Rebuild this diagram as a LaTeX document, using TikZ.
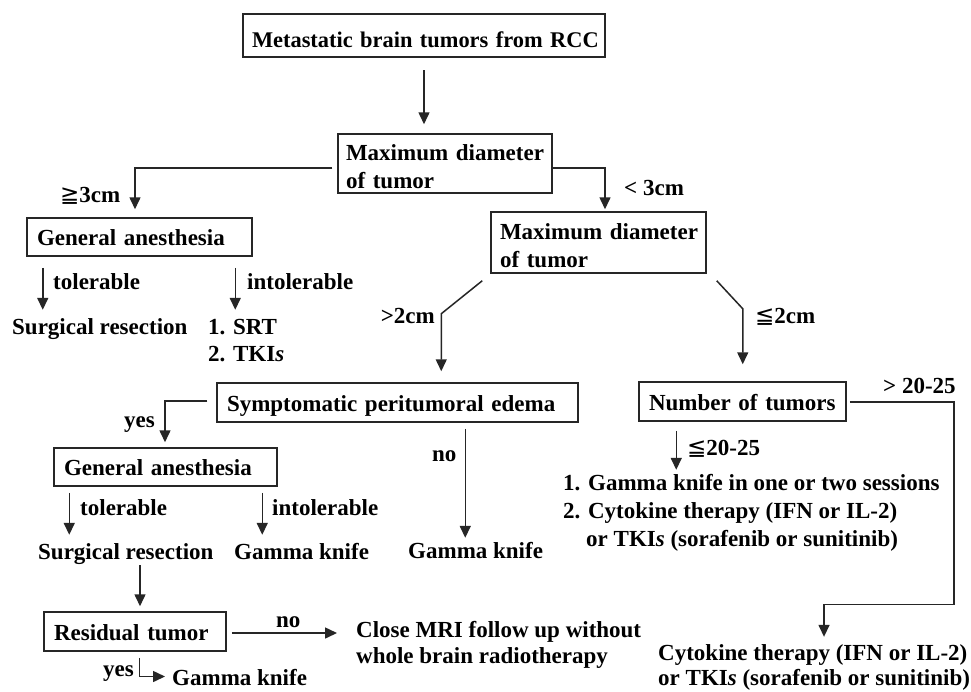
\documentclass[tikz,border=0pt]{standalone}
\usepackage{fontspec}
\setmainfont{Liberation Serif}
\newfontfamily\symf{DejaVu Sans}
\usetikzlibrary{arrows.meta,calc}
\newcommand{\mygeq}{{\symf\mdseries ≧}}
\newcommand{\myleq}{{\symf\mdseries ≦}}
\begin{document}
\begin{tikzpicture}[x=1pt,y=-1pt,
  every node/.style={font=\fontsize{23}{28}\selectfont\bfseries, text=black},
  box/.style={draw=black!85, line width=1.5pt, inner xsep=10pt, inner ysep=0pt, align=left},
  bx1/.style={box, text height=17pt, text depth=0pt},
  lbl/.style={inner sep=0pt, anchor=base west, text height=16pt, text depth=5pt},
  lnk/.style={draw=black!85, line width=1.5pt},
  arr/.style={lnk, -{Triangle[length=12pt,width=11pt]}}]
\fill[white] (0,0) rectangle (971,691);
\useasboundingbox (0,0) rectangle (971,691);

% boxes
\node[box, inner xsep=9pt, text width=344pt, minimum height=43pt, text height=23pt, text depth=0pt, font=\fontsize{22.4}{28}\selectfont\bfseries] (top) at (424,35.5) {\mbox{Metastatic brain tumors from RCC}};
\node[box, inner xsep=8pt, text width=198pt, minimum height=59pt, text height=22pt, text depth=28pt] (max1) at (445,163.5) {\mbox{Maximum diameter}\\\mbox{of tumor}};
\node[bx1, text width=205pt, minimum height=38pt] (ga1) at (139.5,237) {\mbox{General anesthesia}};
\node[box, inner xsep=9pt, text width=197pt, minimum height=61pt, text height=22pt, text depth=28pt] (max2) at (598.5,242.5) {\mbox{Maximum diameter}\\\mbox{of tumor}};
\node[bx1, text width=341pt, minimum height=39pt] (edema) at (397.5,402.5) {\mbox{Symptomatic peritumoral edema}};
\node[bx1, text width=187pt, minimum height=39pt] (num) at (742.5,401.5) {\mbox{Number of tumors}};
\node[bx1, text width=203pt, minimum height=38pt] (ga2) at (165.5,467) {\mbox{General anesthesia}};
\node[bx1, text width=162pt, minimum height=39pt] (res) at (135,631.5) {\mbox{Residual tumor}};

% texts and labels
\node[lbl] (l3ge) at (60,202) {\mygeq3cm};
\node[lbl] (l3lt) at (624,195) {< 3cm};
\node[lbl] (tol1) at (53,289) {tolerable};
\node[lbl] (int1) at (247,289) {intolerable};
\node[lbl] (sr1) at (12,334) {Surgical resection};
\node[lbl] (srt1) at (208,334) {1. SRT};
\node[lbl] (srt2) at (208,361) {2. TKI\textit{s}};
\node[lbl, anchor=base east] (l2gt) at (435,323) {>2cm};
\node[lbl] (l2le) at (755,323) {\myleq2cm};
\node[lbl] (yes1) at (124,427) {yes};
\node[lbl] (no1) at (432,461) {no};
\node[lbl] (gk1) at (408,558) {Gamma knife};
\node[lbl] (l20gt) at (883,393) {> 20-25};
\node[lbl] (l20le) at (687,455) {\myleq20-25};
\node[lbl] (li1) at (563,490) {1. Gamma knife in one or two sessions};
\node[lbl] (li2) at (563,518) {2. Cytokine therapy (IFN or IL-2)};
\node[lbl] (li3) at (586,546) {or TKI\textit{s} (sorafenib or sunitinib)};
\node[lbl] (tol2) at (80,515) {tolerable};
\node[lbl] (int2) at (272,515) {intolerable};
\node[lbl] (sr2) at (38,559) {Surgical resection};
\node[lbl] (gk2) at (234,559) {Gamma knife};
\node[lbl] (no2) at (276,627) {no};
\node[lbl] (cl1) at (356,637) {Close MRI follow up without};
\node[lbl] (cl2) at (356,663) {whole brain radiotherapy};
\node[lbl] (yes2) at (103,676) {yes};
\node[lbl] (gk3) at (172,685) {Gamma knife};
\node[lbl] (cy1) at (658,660) {Cytokine therapy (IFN or IL-2)};
\node[lbl] (cy2) at (658,685) {or TKI\textit{s} (sorafenib or sunitinib)};

% connectors
\draw[arr] ($(top.south)+(0,12.5)$) -- ($(top.south |- max1.north)+(0,-9)$);
\draw[arr] ($(max1.west)+(-5,4.5)$) -| ($(ga1.north)+(-4.5,-8)$);
\draw[arr] ($(max1.east)+(0,4.5)$) -| ($(max2.north)+(6.5,-2)$);
\draw[arr] ($(ga1.south west)+(16.5,11)$) -- ($(ga1.south west |- sr1.north)+(16.5,-8)$);
\draw[arr] ($(ga1.south west)+(209,11)$) -- ($(ga1.south west |- srt1.north)+(209,-8)$);
\draw[arr] ($(max2.south west)+(-8,7)$) -- ($(max2.south west)+(-49,40)$) -- ($(max2.south west |- edema.north)+(-49,-11)$);
\draw[arr] ($(max2.south east)+(10,7)$) -- ($(max2.south east)+(36,35)$) -- ($(max2.south east |- num.north)+(36,-17)$);
\draw[arr] ($(edema.west)+(-9,-1.5)$) -| ($(ga2.north)+(-0.5,-5)$);
\draw[arr] ($(edema.south west)+(249,6)$) -- ($(edema.south west |- gk1.north)+(249,-4)$);
\draw[arr] ($(num.south west)+(38,9)$) -- ($(num.south west |- li1.north)+(38,-4)$);
\draw[arr] ($(num.east)+(3,0.5)$) -| ($(num.east)+(107,203)$) -| ($(cy1.north west)+(166,-7)$);
\draw[arr] ($(ga2.south west)+(16,6)$) -- ($(ga2.south west |- sr2.north)+(16,-8)$);
\draw[arr] ($(ga2.south west)+(209,6)$) -- ($(ga2.south west |- gk2.north)+(209,-8)$);
\draw[arr] ($(sr2.south west)+(102,1)$) -- ($(sr2.south west |- res.north)+(102,-5)$);
\draw[arr] ($(res.east)+(5,1.5)$) -- ($(res.east -| cl1.west)+(-19,1.5)$);
\draw[arr] ($(res.south west)+(96,6)$) |- ($(gk3.west)+(-7,-3)$);
\end{tikzpicture}
\end{document}
